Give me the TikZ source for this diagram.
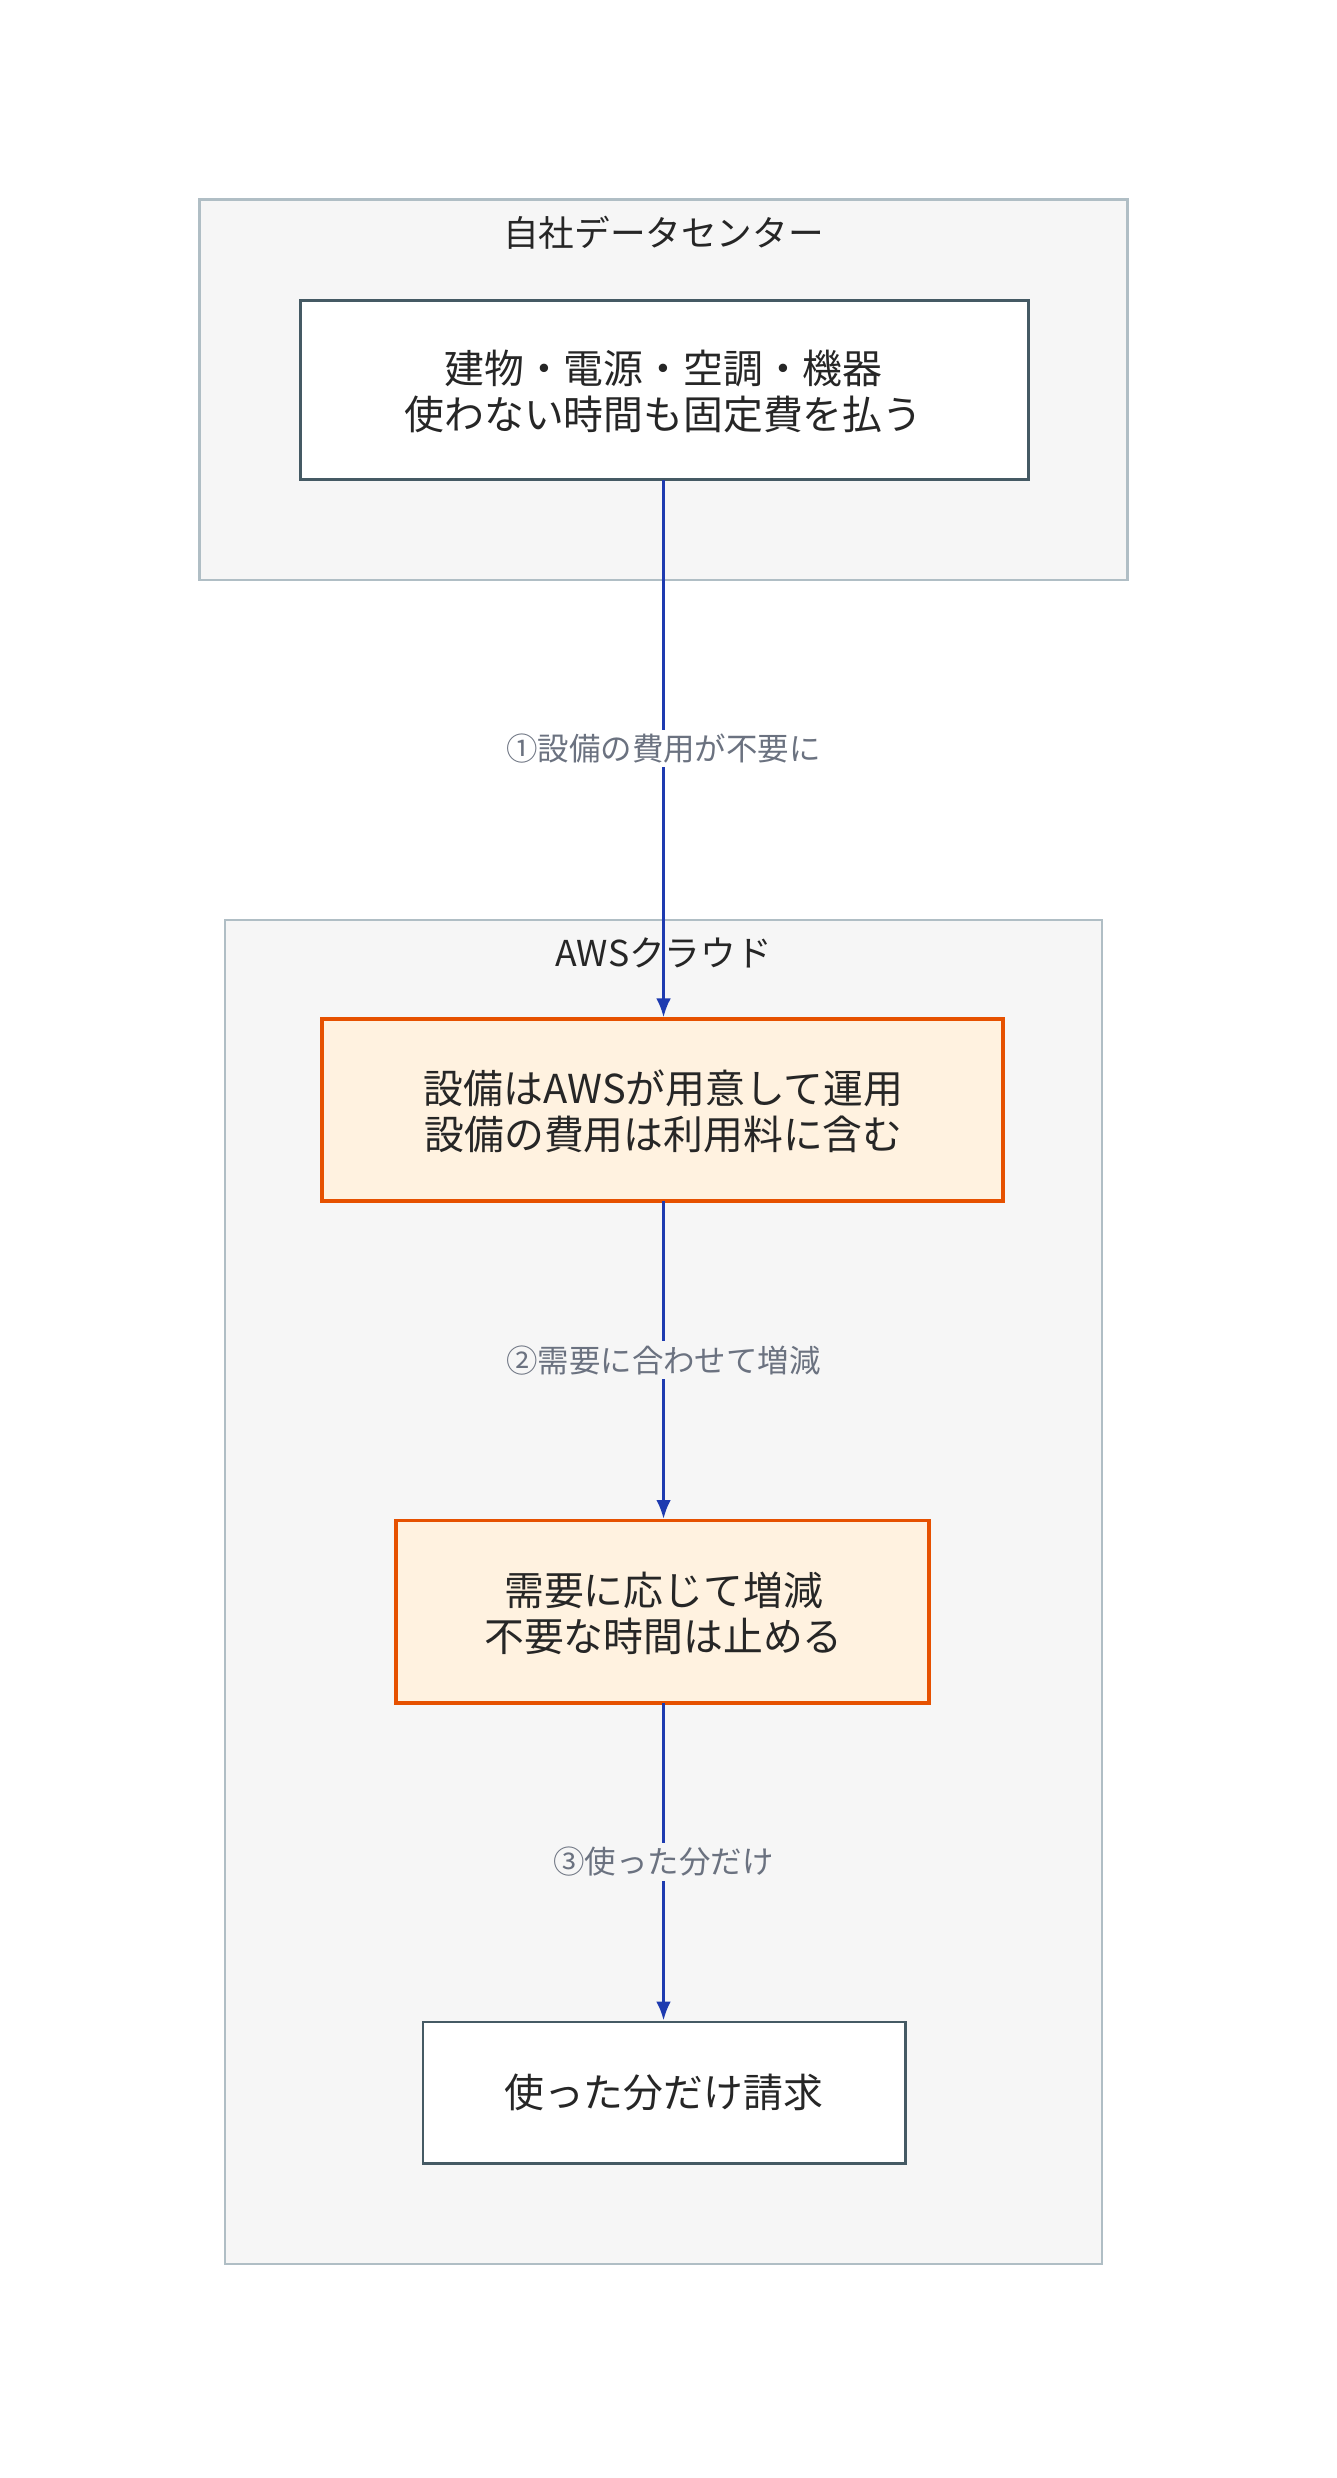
\documentclass[tikz,border=0pt]{standalone}
\usepackage{fontspec}
\setmainfont{Noto Sans CJK JP}
\usetikzlibrary{arrows.meta}
\definecolor{grpb}{HTML}{B0BEC5}
\definecolor{grpf}{HTML}{F6F6F6}
\definecolor{nb}{HTML}{455A64}
\definecolor{ob}{HTML}{E65100}
\definecolor{of}{HTML}{FFF2E0}
\definecolor{ar}{HTML}{1E3BB0}
\definecolor{lb}{HTML}{6B7280}
\begin{document}
\begin{tikzpicture}[x=0.75pt,y=-0.75pt,
 grp/.style={draw=grpb,fill=grpf,line width=1.2pt},
 nd/.style={draw=nb,fill=white,line width=1.3pt},
 on/.style={draw=ob,fill=of,line width=1.8pt},
 tt/.style={font=\fontsize{17}{22}\selectfont,text=black!85},
 tx/.style={font=\fontsize{19}{22}\selectfont,align=center,text=black!85},
 lab/.style={font=\fontsize{15}{18}\selectfont,text=lb,fill=white,inner sep=2pt},
 arr/.style={draw=ar,line width=1.3pt,-{Latex[length=9pt,width=7pt]}}]
\useasboundingbox (0,0) rectangle (850,1576);
\draw[grp] (127,127) rectangle (717,369);
\node[tt] (t1) at (422,148) {自社データセンター};
\draw[grp] (143,585) rectangle (701,1440);
\node[tt] (t2) at (422,606) {AWSクラウド};
\draw[nd] (191,191) rectangle (654,305);
\node[tx] (a) at (422,249) {建物・電源・空調・機器\\使わない時間も固定費を払う};
\draw[on] (205,648) rectangle (638,764);
\node[tx] (b) at (422,707) {設備はAWSが用意して運用\\設備の費用は利用料に含む};
\draw[on] (252,967) rectangle (591,1083);
\node[tx] (c) at (422,1026) {需要に応じて増減\\不要な時間は止める};
\draw[nd] (269,1286) rectangle (576,1376);
\node[tx] (d) at (422,1331) {使った分だけ請求};
\coordinate (a1) at (422,305); \coordinate (b0) at (422,647);
\coordinate (b1) at (422,764); \coordinate (c0) at (422,966);
\coordinate (c1) at (422,1083); \coordinate (d0) at (422,1285);
\draw[arr] (a1) -- node[lab,fill=white] {①設備の費用が不要に} (b0);
\draw[arr] (b1) -- node[lab,fill=grpf] {②需要に合わせて増減} (c0);
\draw[arr] (c1) -- node[lab,fill=grpf] {③使った分だけ} (d0);
\end{tikzpicture}
\end{document}
